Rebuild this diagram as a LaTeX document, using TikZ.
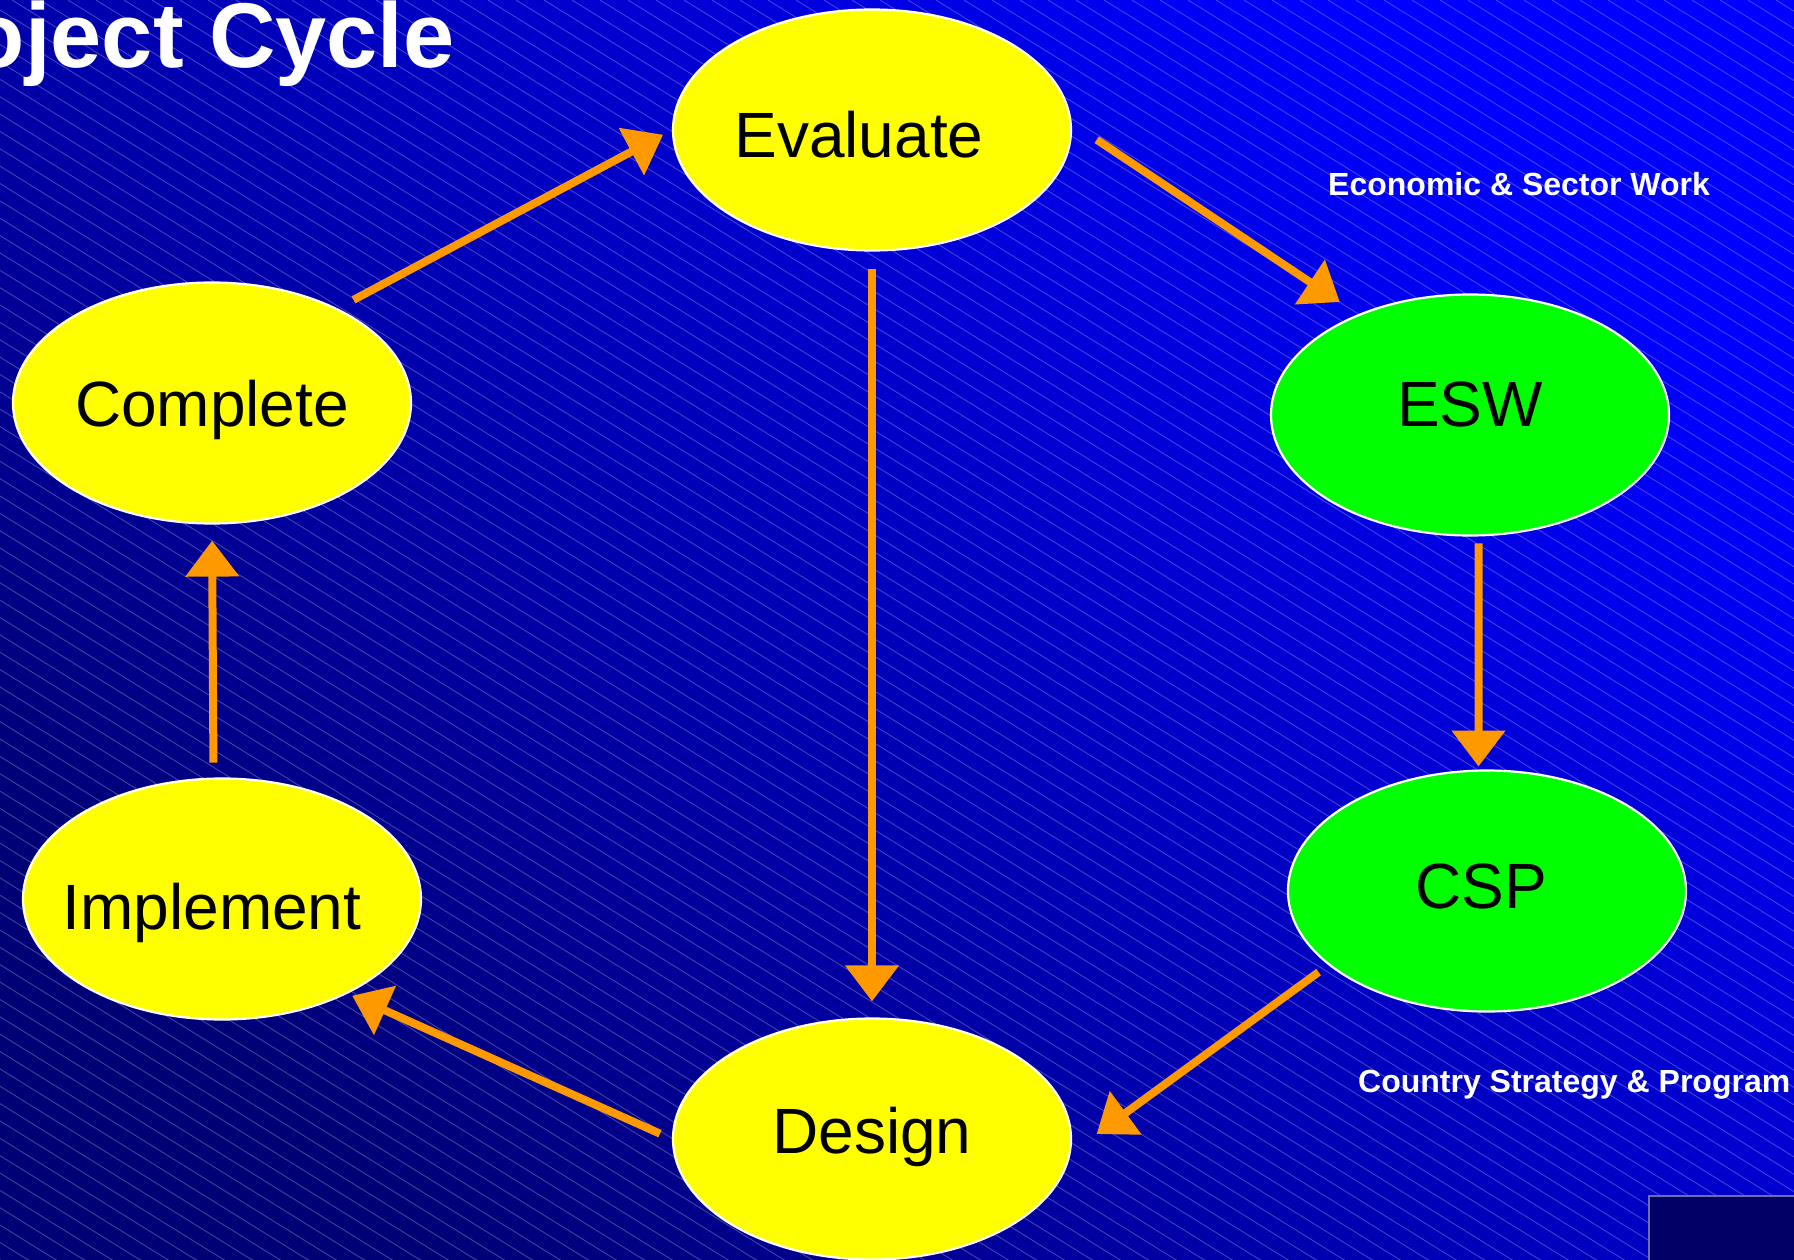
\documentclass[tikz,border=0pt]{standalone}
\usepackage{fontspec}
\setmainfont{Liberation Sans}
\usetikzlibrary{shapes.geometric,arrows.meta}
\definecolor{skybright}{RGB}{0,0,255}
\definecolor{skymid}{RGB}{0,0,192}
\definecolor{skydark}{RGB}{0,0,118}
\definecolor{stageyellow}{RGB}{255,255,0}
\definecolor{stagegreen}{RGB}{0,255,0}
\definecolor{flowline}{RGB}{255,153,0}
\definecolor{panelfill}{RGB}{0,0,102}
\definecolor{panelrim}{RGB}{110,110,175}
\begin{document}
\begin{tikzpicture}[x=1pt,y=-1pt,
  stage/.style={ellipse, draw=white, line width=2.2pt, minimum width=398pt,
                minimum height=241pt, inner sep=0pt},
  plan/.style={stage, fill=stageyellow},
  country/.style={stage, fill=stagegreen},
  stagetext/.style={anchor=base, inner sep=0pt, text=black,
                    font=\fontsize{64}{64}\selectfont},
  note/.style={anchor=base west, inner sep=0pt, text=white,
               font=\bfseries\fontsize{32}{32}\selectfont},
  flow/.style={draw=flowline, line width=8pt,
               -{Triangle[length=36pt,width=52pt]}},
  stripe/.style={draw=white, opacity=0.26, line width=0.9pt}]

% page frame
\useasboundingbox (0,0) rectangle (1794,1260);
\clip (0,0) rectangle (1794,1260);

% diagonal blue gradient with fine hatching
\shade[top color=skybright, middle color=skymid, bottom color=skydark,
       shading angle=-45] (0,0) rectangle (1794,1260);
\foreach \k in {0,...,145}
  \draw[stripe] ({-2200+28*\k},0) -- ({28*\k},1364);

% corner panel
\draw[fill=panelfill, draw=panelrim, line width=2.5pt]
  (1649,1196) rectangle (1800,1270);

% title
\node[anchor=base east, inner sep=0pt, text=white,
      font=\bfseries\fontsize{92}{92}\selectfont] (title) at (455,68) {Project Cycle};

% stages
\node[plan]    (eva) at (872,130)  {};
\node[plan]    (cmp) at (212,403)  {};
\node[country] (esw) at (1470,415) {};
\node[country] (csp) at (1487,891) {};
\node[plan]    (imp) at (222,899)  {};
\node[plan]    (des) at (872,1139) {};

\node[stagetext] (evaT) at ([shift={(-13,28)}]eva.center) {Evaluate};
\node[stagetext] (cmpT) at ([shift={(0,23)}]cmp.center)   {Complete};
\node[stagetext] (eswT) at ([shift={(0,11)}]esw.center)   {ESW};
\node[stagetext] (cspT) at ([shift={(-6,17)}]csp.center)  {CSP};
\node[stagetext] (impT) at ([shift={(-10,30)}]imp.center) {Implement};
\node[stagetext] (desT) at ([shift={(0,14)}]des.center)   {Design};

% side notes
\node[note] (eswN) at (1328,196)  {Economic \& Sector Work};
\node[note] (cspN) at (1358,1092) {Country Strategy \& Program};

% cycle arrows
\draw[flow, shorten <=18pt, shorten >=10pt] (cmp.37)  -- (eva.180);
\draw[flow, shorten <=30pt, shorten >=22pt] (eva.2)   -- (esw.138);
\draw[flow, shorten <=17pt, shorten >=16pt] (eva.270) -- (des.90);
\draw[flow, shorten <=7pt,  shorten >=3pt]  (esw.274) -- (csp.94);
\draw[flow, shorten <=12pt, shorten >=32pt] (csp.205) -- (des.-4);
\draw[flow, shorten <=13pt, shorten >=5pt]  (des.180) -- (imp.323);
\draw[flow, shorten <=15pt, shorten >=16pt] (imp.94)  -- (cmp.270);
\end{tikzpicture}
\end{document}
